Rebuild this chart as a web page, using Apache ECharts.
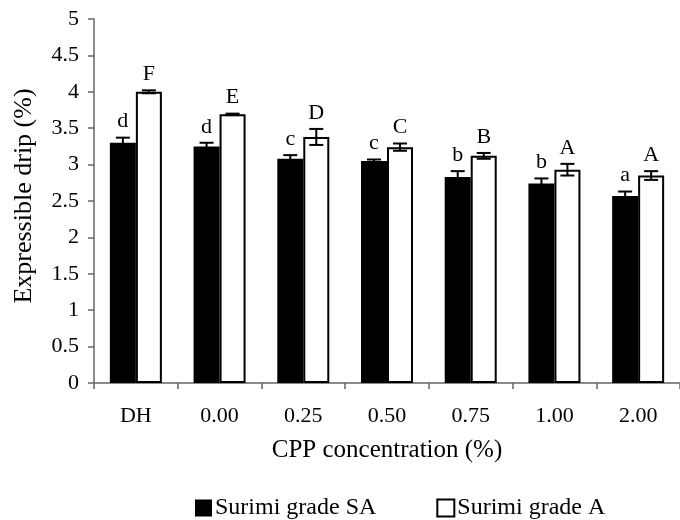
<!DOCTYPE html>
<html>
<head>
<meta charset="utf-8">
<script src="https://cdn.jsdelivr.net/npm/echarts@6/dist/echarts.min.js"></script>
<style>html,body{margin:0;padding:0;background:#fff}#c{width:680px;height:520px}</style>
</head>
<body>
<div id="c"></div>
<script>
const categories = ['DH', '0.00', '0.25', '0.50', '0.75', '1.00', '2.00'];
const seriesNames = ['Surimi grade SA', 'Surimi grade A'];
const valuesSA = [3.30, 3.25, 3.08, 3.05, 2.83, 2.74, 2.57];
const errorsSA = [0.07, 0.05, 0.05, 0.02, 0.08, 0.07, 0.06];
const lettersSA = ['d', 'd', 'c', 'c', 'b', 'b', 'a'];
const valuesA = [4.00, 3.69, 3.38, 3.24, 3.12, 2.93, 2.85];
const errorsA = [0.02, 0.01, 0.11, 0.05, 0.04, 0.08, 0.06];
const lettersA = ['F', 'E', 'D', 'C', 'B', 'A', 'A'];
const yTicks = { min: 0, max: 5, interval: 0.5 };

const FONT = 'Liberation Serif';
const BAR_W = 26;

function errSeries(values, errors, letters, dir) {
  const data = values.map((v, i) => [i, v, errors[i]]);
  return {
    type: 'custom',
    silent: true,
    z: 5,
    data: data,
    renderItem: function (params, api) {
      const i = api.value(0), v = api.value(1), e = api.value(2);
      const letter = letters[params.dataIndex];
      const c = api.coord([i, v]);
      const x = c[0] + dir * BAR_W / 2;
      const yTop = api.coord([i, v + e])[1];
      const yBot = api.coord([i, v - e])[1];
      const cap = 7;
      const st = { stroke: '#000', lineWidth: 2 };
      return {
        type: 'group',
        children: [
          { type: 'line', shape: { x1: x, y1: yTop, x2: x, y2: yBot }, style: st },
          { type: 'line', shape: { x1: x - cap, y1: yTop, x2: x + cap, y2: yTop }, style: st },
          { type: 'line', shape: { x1: x - cap, y1: yBot, x2: x + cap, y2: yBot }, style: st },
          { type: 'text', style: { text: letter, x: x, y: yTop - 5, align: 'center', verticalAlign: 'bottom',
              font: '22px "' + FONT + '"', fill: '#000' } }
        ]
      };
    }
  };
}

const chart = echarts.init(document.getElementById('c'), null, { renderer: 'canvas' });
chart.setOption({
  backgroundColor: '#fff',
  animation: false,
  textStyle: { fontFamily: FONT, color: '#000' },
  grid: { left: 94, right: -8, top: 19, bottom: 137, containLabel: false },
  legend: {
    left: 190, top: 491,
    itemWidth: 17, itemHeight: 17, itemGap: 60,
    icon: 'rect',
    textStyle: { fontFamily: FONT, fontSize: 24, color: '#000', padding: [0, 0, 0, -2] },
    data: seriesNames
  },
  xAxis: {
    type: 'category',
    data: categories,
    name: 'CPP concentration (%)',
    nameLocation: 'middle',
    nameGap: 55,
    nameTextStyle: { fontFamily: FONT, fontSize: 25, color: '#000' },
    axisLine: { lineStyle: { color: '#666', width: 1.5 } },
    axisTick: { show: true, length: 6, alignWithLabel: false, lineStyle: { color: '#666', width: 1.5 } },
    axisLabel: { fontFamily: FONT, fontSize: 22, color: '#000', margin: 22 },
    splitLine: { show: false }
  },
  yAxis: {
    type: 'value',
    min: yTicks.min, max: yTicks.max, interval: yTicks.interval,
    name: 'Expressible drip (%)',
    nameLocation: 'middle',
    nameGap: 57,
    nameRotate: 90,
    nameTextStyle: { fontFamily: FONT, fontSize: 26, color: '#000', padding: [0, 0, 0, 10] },
    axisLine: { show: true, lineStyle: { color: '#666', width: 1.5 } },
    axisTick: { show: true, length: 6, inside: false, lineStyle: { color: '#666', width: 1.5 } },
    axisLabel: { fontFamily: FONT, fontSize: 22, color: '#000', margin: 15 },
    splitLine: { show: false }
  },
  series: [
    { name: seriesNames[0], type: 'bar', data: valuesSA, barWidth: BAR_W, barGap: '0%',
      itemStyle: { color: '#000', borderColor: '#000', borderWidth: 0 } },
    { name: seriesNames[1], type: 'bar', data: valuesA, barWidth: BAR_W, barGap: '0%',
      itemStyle: { color: '#fff', borderColor: '#000', borderWidth: 2 } },
    errSeries(valuesSA, errorsSA, lettersSA, -1),
    errSeries(valuesA, errorsA, lettersA, 1)
  ]
});
</script>
</body>
</html>
